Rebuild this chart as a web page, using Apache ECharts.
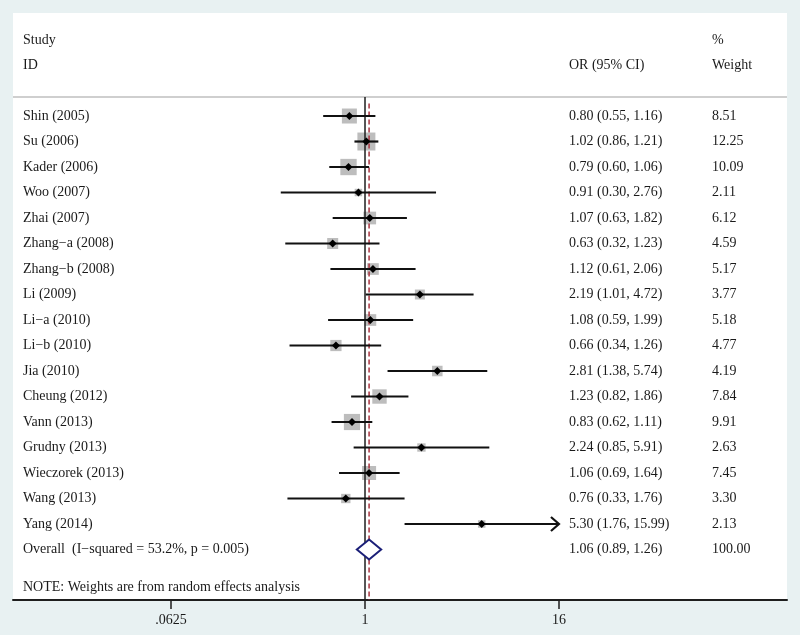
<!DOCTYPE html>
<html><head><meta charset="utf-8">
<script src="https://cdn.jsdelivr.net/npm/echarts@6/dist/echarts.min.js"></script>
<style>html,body{margin:0;padding:0;background:#e8f1f2;}#c{width:800px;height:635px;}</style>
</head><body><div id="c"></div>
<script>
// ---- data ----
const studies = ['Shin (2005)','Su (2006)','Kader (2006)','Woo (2007)','Zhai (2007)','Zhang\u2212a (2008)','Zhang\u2212b (2008)','Li (2009)','Li\u2212a (2010)','Li\u2212b (2010)','Jia (2010)','Cheung (2012)','Vann (2013)','Grudny (2013)','Wieczorek (2013)','Wang (2013)','Yang (2014)'];
const orValues = [0.80,1.02,0.79,0.91,1.07,0.63,1.12,2.19,1.08,0.66,2.81,1.23,0.83,2.24,1.06,0.76,5.30];
const ciLower  = [0.55,0.86,0.60,0.30,0.63,0.32,0.61,1.01,0.59,0.34,1.38,0.82,0.62,0.85,0.69,0.33,1.76];
const ciUpper  = [1.16,1.21,1.06,2.76,1.82,1.23,2.06,4.72,1.99,1.26,5.74,1.86,1.11,5.91,1.64,1.76,15.99];
const weights  = [8.51,12.25,10.09,2.11,6.12,4.59,5.17,3.77,5.18,4.77,4.19,7.84,9.91,2.63,7.45,3.30,2.13];
const arrowStudies = ['Yang (2014)'];
const overallLabel = 'Overall  (I\u2212squared = 53.2%, p = 0.005)';
const overallOR = 1.06, overallLower = 0.89, overallUpper = 1.26, overallWeight = 100.00;
const noteText = 'NOTE: Weights are from random effects analysis';
const xTickValues = [0.0625, 1, 16];
const xTickLabels = ['.0625', '1', '16'];
const headerTop = ['Study', '', '%'];
const headerBottom = ['ID', 'OR (95% CI)', 'Weight'];

// ---- layout constants ----
const FONT = '14px "Liberation Serif", "Times New Roman", serif';
const TXT = '#1a1a1a';
const COL_X = [23, 569, 712];
const ROW_OVERALL = studies.length;      // 17
const ROW_NOTE = studies.length + 1.5;   // 18.5
const ROW_HDR1 = -2.98, ROW_HDR2 = -2.0, ROW_SEP = -0.745;
const Y_MIN = -4.04, Y_MAX = 18.98;
const X_MIN = Math.pow(2, -7.258), X_MAX = Math.pow(2, 8.701);

const fmt = v => v.toFixed(2);
const rows = studies.map((s, i) => ({
  row: i, name: s,
  orText: fmt(orValues[i]) + ' (' + fmt(ciLower[i]) + ', ' + fmt(ciUpper[i]) + ')',
  wText: fmt(weights[i])
}));
rows.push({row: ROW_OVERALL, name: overallLabel,
  orText: fmt(overallOR) + ' (' + fmt(overallLower) + ', ' + fmt(overallUpper) + ')',
  wText: fmt(overallWeight)});
rows.push({row: ROW_HDR1, name: headerTop[0], orText: headerTop[1], wText: headerTop[2]});
rows.push({row: ROW_HDR2, name: headerBottom[0], orText: headerBottom[1], wText: headerBottom[2]});
rows.push({row: ROW_NOTE, name: noteText, orText: '', wText: ''});

function txt(x, y, s) {
  return {type: 'text', x: x, y: y, style: {text: s, fill: TXT, font: FONT, align: 'left', verticalAlign: 'middle'}};
}

const studyData = studies.map((s, i) => [orValues[i], i, ciLower[i], ciUpper[i], weights[i], arrowStudies.indexOf(s) >= 0 ? 1 : 0]);

const chart = echarts.init(document.getElementById('c'), null, {renderer: 'canvas'});
chart.setOption({
  backgroundColor: '#e8f1f2',
  animation: false,
  grid: {left: 13, right: 13, top: 13, bottom: 35, show: true, backgroundColor: '#ffffff', borderWidth: 0},
  xAxis: {
    type: 'log', logBase: 2, min: X_MIN, max: X_MAX, position: 'bottom',
    axisLine: {show: true, onZero: false, lineStyle: {color: '#1e1e1e', width: 2}},
    axisTick: {show: true, customValues: xTickValues, length: 9, lineStyle: {color: '#1e1e1e', width: 1.5}},
    axisLabel: {show: true, customValues: xTickValues, margin: 13, color: TXT,
      fontFamily: '"Liberation Serif", serif', fontSize: 14,
      formatter: v => { const k = xTickValues.findIndex(t => Math.abs(t - v) < 1e-6); return k >= 0 ? xTickLabels[k] : ''; }},
    splitLine: {show: false}, minorTick: {show: false}
  },
  yAxis: {type: 'value', inverse: true, min: Y_MIN, max: Y_MAX, show: false},
  series: [
    { // weight boxes
      type: 'custom', z: 2, data: studyData, encode: {x: 0, y: 1},
      renderItem: (params, api) => {
        const p = api.coord([api.value(0), api.value(1)]);
        const s = 5.14 * Math.sqrt(api.value(4));
        return {type: 'rect', shape: {x: p[0] - s / 2, y: p[1] - s / 2, width: s, height: s}, style: {fill: '#bdbdbd'}};
      }
    },
    { // separator + reference lines
      type: 'custom', z: 3, data: [[1, 0]], encode: {x: 0, y: 1},
      renderItem: (params, api) => {
        const cs = params.coordSys;
        const a = api.coord([1, ROW_SEP]), b = api.coord([1, Y_MAX]);
        const c = api.coord([overallOR, ROW_SEP + 0.25]), d = api.coord([overallOR, Y_MAX]);
        return {type: 'group', children: [
          {type: 'line', shape: {x1: cs.x, y1: a[1], x2: cs.x + cs.width, y2: a[1]}, style: {stroke: '#cfcfcf', lineWidth: 2}},
          {type: 'line', shape: {x1: a[0], y1: a[1], x2: b[0], y2: b[1]}, style: {stroke: '#1e1e1e', lineWidth: 1.5}},
          {type: 'line', shape: {x1: c[0], y1: c[1], x2: d[0], y2: d[1]}, style: {stroke: '#a8343f', lineWidth: 1.5, lineDash: [5, 3]}}
        ]};
      }
    },
    { // CI lines, points, arrows
      type: 'custom', z: 4, data: studyData, encode: {x: [0, 2, 3], y: 1},
      renderItem: (params, api) => {
        const y = api.value(1);
        const p = api.coord([api.value(0), y]);
        const l = api.coord([api.value(2), y]);
        const h = api.coord([api.value(3), y]);
        const ch = [
          {type: 'line', shape: {x1: l[0], y1: l[1], x2: h[0], y2: h[1]}, style: {stroke: '#111', lineWidth: 2.2}},
          {type: 'polygon', shape: {points: [[p[0] - 4, p[1]], [p[0], p[1] - 4], [p[0] + 4, p[1]], [p[0], p[1] + 4]]}, style: {fill: '#000'}}
        ];
        if (api.value(5)) {
          ch.push({type: 'polyline', shape: {points: [[h[0] - 8, h[1] - 7], [h[0], h[1]], [h[0] - 8, h[1] + 7]]}, style: {stroke: '#111', lineWidth: 2.2, fill: null}});
        }
        return {type: 'group', children: ch};
      }
    },
    { // overall diamond
      type: 'custom', z: 4, data: [[overallOR, ROW_OVERALL, overallLower, overallUpper]], encode: {x: [0, 2, 3], y: 1},
      renderItem: (params, api) => {
        const y = api.value(1);
        const c = api.coord([api.value(0), y]);
        const l = api.coord([api.value(2), y]);
        const h = api.coord([api.value(3), y]);
        return {type: 'polygon', shape: {points: [[l[0], c[1]], [c[0], c[1] - 10], [h[0], c[1]], [c[0], c[1] + 10]]},
          style: {fill: '#ffffff', stroke: '#1b1f78', lineWidth: 2}};
      }
    },
    { // text columns
      type: 'custom', z: 5, data: rows.map(r => [1, r.row]), encode: {x: 0, y: 1},
      renderItem: (params, api) => {
        const r = rows[params.dataIndex];
        const yy = api.coord([1, r.row])[1];
        return {type: 'group', children: [txt(COL_X[0], yy, r.name), txt(COL_X[1], yy, r.orText), txt(COL_X[2], yy, r.wText)]};
      }
    }
  ]
});
</script></body></html>
